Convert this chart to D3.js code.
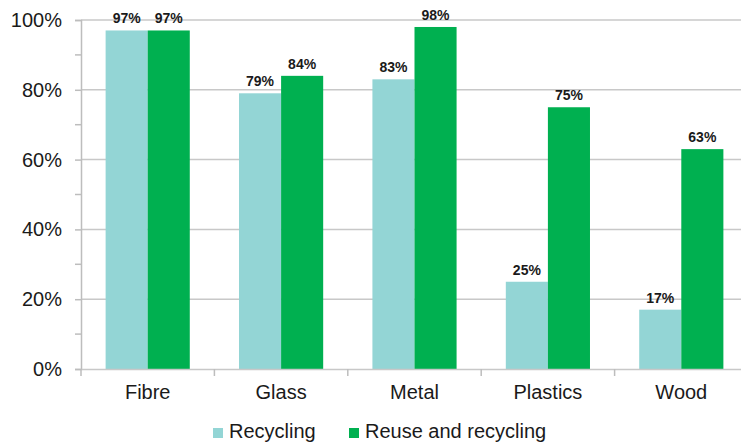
<!DOCTYPE html>
<html>
<head>
<meta charset="utf-8">
<script src="https://cdn.jsdelivr.net/npm/d3@7"></script>
<style>
  body { margin: 0; background: #fff; }
  text { font-family: "Liberation Sans", Arial, sans-serif; fill: #1a1a1a; }
</style>
</head>
<body>
<script>
// Data
var categories = ["Fibre", "Glass", "Metal", "Plastics", "Wood"];
var seriesNames = ["Recycling", "Reuse and recycling"];
var recycling = [97, 79, 83, 25, 17];
var reuseRecycling = [97, 84, 98, 75, 63];
var yTicks = [0, 20, 40, 60, 80, 100];

var svgWidth = 741;
var svgHeight = 446;
var margin = { top: 20, right: -7, bottom: 77, left: 81 };
var chartWidth = svgWidth - margin.left - margin.right;
var chartHeight = svgHeight - margin.top - margin.bottom;

var colors = ["#93d5d5", "#00b050"];

var svg = d3.select("body").append("svg")
  .attr("width", svgWidth)
  .attr("height", svgHeight);

var chartGroup = svg.append("g")
  .attr("transform", `translate(${margin.left}, ${margin.top})`);

var xBand = d3.scaleBand()
  .domain(categories)
  .range([0, chartWidth])
  .paddingInner(0)
  .paddingOuter(0);

var xInner = d3.scaleBand()
  .domain(seriesNames)
  .range([0, xBand.bandwidth()])
  .paddingOuter(0.585)
  .paddingInner(0);

var yScale = d3.scaleLinear()
  .domain([0, 100])
  .range([chartHeight, 0]);

// gridlines
chartGroup.selectAll(".grid")
  .data(yTicks.filter(d => d > 0))
  .enter().append("line")
  .attr("x1", 0)
  .attr("x2", chartWidth)
  .attr("y1", d => yScale(d))
  .attr("y2", d => yScale(d))
  .attr("stroke", "#c8c8c8")
  .attr("stroke-width", 1.5);

// bars
var rows = categories.map((c, i) => ({ cat: c, values: [recycling[i], reuseRecycling[i]] }));

var groups = chartGroup.selectAll(".cat")
  .data(rows)
  .enter().append("g")
  .attr("transform", d => `translate(${xBand(d.cat)},0)`);

groups.selectAll("rect")
  .data(d => d.values.map((v, j) => ({ name: seriesNames[j], value: v, j: j })))
  .enter().append("rect")
  .attr("x", d => xInner(d.name))
  .attr("width", xInner.bandwidth())
  .attr("y", d => yScale(d.value))
  .attr("height", d => chartHeight - yScale(d.value))
  .attr("fill", d => colors[d.j]);

groups.selectAll(".lbl")
  .data(d => d.values.map((v, j) => ({ name: seriesNames[j], value: v })))
  .enter().append("text")
  .attr("x", d => xInner(d.name) + xInner.bandwidth() / 2)
  .attr("y", d => yScale(d.value) - 7)
  .attr("text-anchor", "middle")
  .style("font-size", "14px")
  .style("font-weight", "bold")
  .text(d => d.value + "%");

// y axis
var leftAxis = d3.axisLeft(yScale)
  .tickValues(yTicks)
  .tickSize(6)
  .tickPadding(13)
  .tickFormat(d => d + "%");

var yAxisG = chartGroup.append("g").call(leftAxis);
yAxisG.select(".domain").attr("stroke", "#bdbdbd").attr("stroke-width", 1.5);
yAxisG.selectAll(".tick line").attr("stroke", "#bdbdbd").attr("stroke-width", 1.5);
yAxisG.selectAll(".tick text")
  .style("font-size", "20px")
  .style("font-family", "'Liberation Sans', Arial, sans-serif")
  .attr("fill", "#1a1a1a");

// minor ticks
chartGroup.selectAll(".minor")
  .data([10, 30, 50, 70, 90])
  .enter().append("line")
  .attr("x1", -6)
  .attr("x2", 0)
  .attr("y1", d => yScale(d))
  .attr("y2", d => yScale(d))
  .attr("stroke", "#bdbdbd")
  .attr("stroke-width", 1.5);

// x axis
var bottomAxis = d3.axisBottom(xBand).tickSize(0).tickPadding(16);
var xAxisG = chartGroup.append("g")
  .attr("transform", `translate(0, ${chartHeight})`)
  .call(bottomAxis);
xAxisG.select(".domain").attr("stroke", "#c8c8c8").attr("stroke-width", 1.5);
xAxisG.selectAll(".tick text")
  .style("font-size", "20px")
  .style("font-family", "'Liberation Sans', Arial, sans-serif")
  .attr("fill", "#1a1a1a");

// category separator ticks
chartGroup.selectAll(".sep")
  .data(categories.map((c, i) => i).concat([categories.length]))
  .enter().append("line")
  .attr("x1", d => d * xBand.step())
  .attr("x2", d => d * xBand.step())
  .attr("y1", chartHeight)
  .attr("y2", chartHeight + 7)
  .attr("stroke", "#bdbdbd")
  .attr("stroke-width", 1.5);

// legend
var legend = svg.append("g")
  .attr("transform", "translate(213, 428)");
var legendX = [0, 136];
seriesNames.forEach(function(name, i) {
  var g = legend.append("g").attr("transform", `translate(${legendX[i]},0)`);
  g.append("rect")
    .attr("width", 10)
    .attr("height", 10)
    .attr("fill", colors[i]);
  g.append("text")
    .attr("x", 16)
    .attr("y", 10)
    .style("font-size", "20px")
    .text(name);
});
</script>
</body>
</html>
